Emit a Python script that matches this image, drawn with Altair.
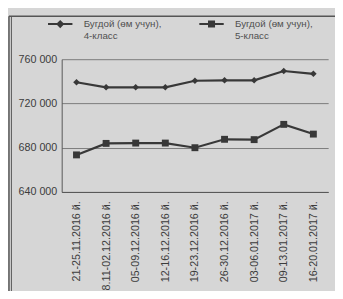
import altair as alt
import pandas as pd

dates = ["21-25.11.2016 й.", "28.11-02.12.2016 й.", "05-09.12.2016 й.", "12-16.12.2016 й.",
         "19-23.12.2016 й.", "26-30.12.2016 й.", "03-06.01.2017 й.", "09-13.01.2017 й.",
         "16-20.01.2017 й."]
series_names = ["4-класс", "5-класс"]
grade4 = [739200, 734600, 734600, 734600, 740500, 740900, 740900, 749300, 746800]
grade5 = [673500, 683900, 684200, 684200, 680000, 687600, 687300, 701100, 692300]
y_ticks = [640000, 680000, 720000, 760000]

rows = []
for i, d in enumerate(dates):
    rows.append({"date": d, "series": series_names[0], "value": grade4[i], "order": i})
    rows.append({"date": d, "series": series_names[1], "value": grade5[i], "order": i})
df = pd.DataFrame(rows)

INK = "#383838"
TXT = "#3c3c3c"
BG = "#d6d6d6"
FONT = "Liberation Sans"

# legend symbol: thin bar + marker, shifted down to sit on the first label line
dy = 0.5
def bar():
    return "M-1.25,%.2fH1.25V%.2fH-1.25Z" % (dy - 0.1, dy + 0.1)
diamond_path = bar() + "M0,%.2fL0.42,%.2fL0,%.2fL-0.42,%.2fZ" % (dy - 0.42, dy, dy + 0.42, dy)
square_path = bar() + "M-0.36,%.2fH0.36V%.2fH-0.36Z" % (dy - 0.36, dy + 0.36)

x_enc = alt.X("date:O", sort=dates, title=None,
              scale=alt.Scale(type="point", padding=0.5),
              axis=alt.Axis(labelAngle=270, labelAlign="right", labelBaseline="middle",
                            labelPadding=9, ticks=False, domainColor="#555555",
                            labelFontSize=11, labelColor=TXT, labelFont=FONT, grid=False))
y_enc = alt.Y("value:Q", title=None,
              scale=alt.Scale(domain=[640000, 760000], nice=False, zero=False),
              axis=alt.Axis(values=y_ticks, ticks=False, labelPadding=5, domainColor="#555555",
                            gridColor="#7a7a7a", gridWidth=1, labelFontSize=11,
                            labelColor=TXT, labelFont=FONT,
                            labelExpr="replace(format(datum.value, ','), ',', ' ')"))

color_scale = alt.Scale(domain=series_names, range=[INK, INK])

shape_expr = "datum.value == '4-класс' ? '" + diamond_path + "' : '" + square_path + "'"

lines = alt.Chart(df).mark_line(strokeWidth=2.2).encode(
    x=x_enc, y=y_enc,
    color=alt.Color("series:N", scale=color_scale,
                    legend=alt.Legend(
                        title=None, orient="none", direction="horizontal",
                        legendX=-11.5, legendY=-51, padding=0, columnPadding=38,
                        symbolSize=400, symbolStrokeWidth=0, labelOffset=14,
                        symbolType=alt.ExprRef(shape_expr),
                        symbolFillColor=INK, symbolStrokeColor=INK, symbolOpacity=1,
                        labelFontSize=10, labelColor="#505050", labelFont=FONT,
                        labelBaseline="top",
                        labelExpr="['Бугдой (өм учун),', datum.label]")),
    order="order:Q",
)

pts4 = alt.Chart(df).transform_filter(alt.datum.series == series_names[0]).mark_point(
    filled=True, opacity=1, shape="diamond", size=45, color=INK).encode(x=x_enc, y=y_enc)
pts5 = alt.Chart(df).transform_filter(alt.datum.series == series_names[1]).mark_point(
    filled=True, opacity=1, shape="square", size=50, color=INK).encode(x=x_enc, y=y_enc)

frame_top = alt.Chart(pd.DataFrame({"k": [0]})).mark_rule(color="#555555", strokeWidth=1.5).encode(
    x=alt.value(-54), x2=alt.value(280), y=alt.value(-44))
frame_left = alt.Chart(pd.DataFrame({"k": [0]})).mark_rule(color="#555555", strokeWidth=1.5).encode(
    x=alt.value(-54), y=alt.value(-44), y2=alt.value(240))
frame_left2 = alt.Chart(pd.DataFrame({"k": [0]})).mark_rule(color="#555555", strokeWidth=1).encode(
    x=alt.value(-51.5), y=alt.value(-44), y2=alt.value(240))

chart = alt.layer(frame_top, frame_left, frame_left2, lines, pts4, pts5).properties(
    width=273, height=136,
    autosize=alt.AutoSizeParams(type="none"),
    padding={"left": 55, "top": 49, "right": 7, "bottom": 98},
    background=BG,
).configure_view(stroke=None)

chart.save("out.html", embed_options={"renderer": "svg", "actions": False})
